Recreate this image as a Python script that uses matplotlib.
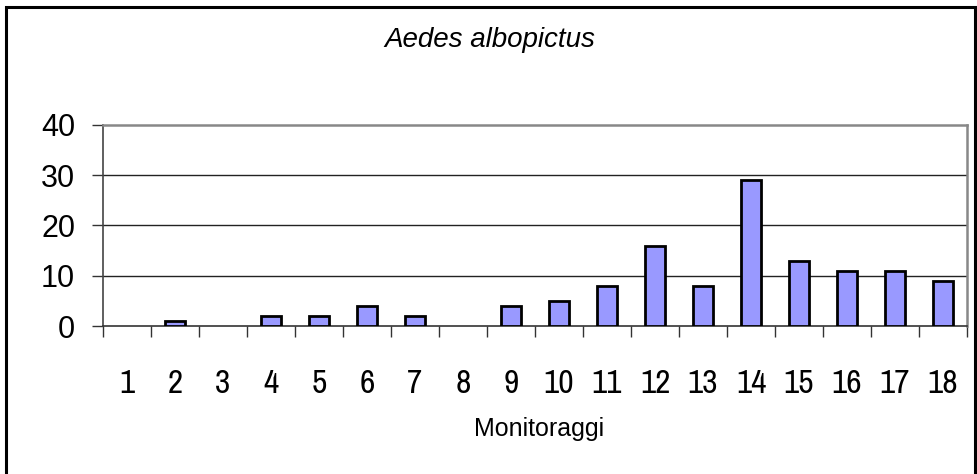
import matplotlib
matplotlib.use("Agg")
import matplotlib.pyplot as plt
from matplotlib.patches import Rectangle
from matplotlib import font_manager

categories = [str(i) for i in range(1, 19)]
values = [0, 1, 0, 2, 2, 4, 2, 0, 4, 5, 8, 16, 8, 29, 13, 11, 11, 9]
yticks = [0, 10, 20, 30, 40]

narrow = 'Liberation Sans'
for f in font_manager.fontManager.ttflist:
    if 'Narrow' in f.name:
        narrow = f.name
        break
xfs = 24 if narrow != 'Liberation Sans' else 20

W, H = 977, 474
fig = plt.figure(figsize=(W / 100, H / 100), dpi=100)
fig.patch.set_facecolor('white')

# outer border
fig.patches.append(Rectangle((6 / W, -0.01), (975 - 6) / W, 1 - 7 / H + 0.01,
                             transform=fig.transFigure, fill=False,
                             edgecolor='black', linewidth=2.2))

ax = fig.add_axes([103 / W, 1 - 326 / H, (967 - 103) / W, (326 - 125) / H])
x = list(range(1, 19))
edges = ['black' if v > 0 else 'none' for v in values]
ax.bar(x, values, width=0.42, color='#9999FF', edgecolor=edges, linewidth=2.0, zorder=3)

ax.set_xlim(0.5, 18.5)
ax.set_ylim(0, 40)
ax.set_yticks(yticks)
ax.set_yticklabels([str(v) for v in yticks], fontsize=22, family='Liberation Sans')

ax.set_xticks(x)
ax.set_xticklabels(categories, fontsize=xfs, family=narrow)
ax.set_xticks([i + 0.5 for i in range(0, 19)], minor=True)
ax.tick_params(axis='x', which='major', length=0, pad=31)
ax.tick_params(axis='x', which='minor', length=8, width=1.0, color='#333333', direction='out')
ax.tick_params(axis='y', length=8, width=1.0, color='#333333', direction='out', pad=12)

for yv in [10, 20, 30]:
    ax.axhline(yv, color='#222222', linewidth=1.0, zorder=1)

for s in ['top', 'right']:
    ax.spines[s].set_color('#888888')
    ax.spines[s].set_linewidth(1.8)
ax.spines['left'].set_color('#444444')
ax.spines['left'].set_linewidth(1.2)
ax.spines['bottom'].set_color('#333333')
ax.spines['bottom'].set_linewidth(1.2)

fig.text(490 / W, 1 - 47 / H, 'Aedes albopictus', ha='center', va='baseline',
         fontsize=20, style='italic', family='Liberation Sans')
fig.text(539 / W, 1 - 436 / H, 'Monitoraggi', ha='center', va='baseline',
         fontsize=18, family='Liberation Sans')

fig.savefig('out.png', dpi=100, facecolor='white')
